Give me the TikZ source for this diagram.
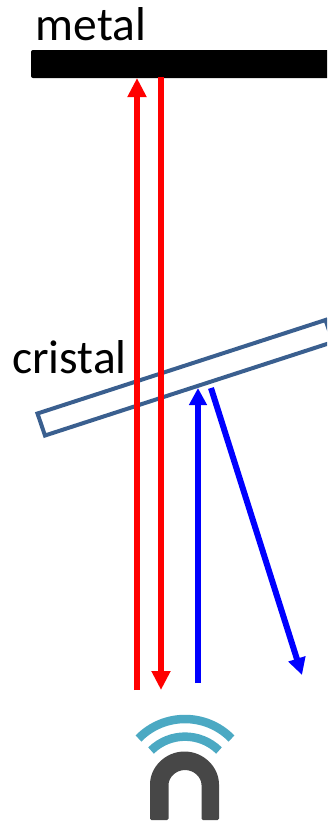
\documentclass[tikz,border=0pt]{standalone}
\usepackage{fontspec}
\setmainfont{Carlito}
\usetikzlibrary{arrows.meta}
\definecolor{crystalblue}{HTML}{3A5F8F}
\definecolor{wifiblue}{HTML}{4BA9C3}
\definecolor{darkgrey}{HTML}{474747}
\tikzset{
  px/.style={x=1pt,y=-1pt},
  redray/.style={draw=red,line width=6pt,-{Triangle[length=19pt,width=18pt]}},
  blueray/.style={draw=blue,line width=6pt,-{Triangle[length=17pt,width=17pt]}},
  label/.style={inner sep=0pt,font=\fontsize{47.5pt}{47.5pt}\selectfont,anchor=base west},
  wifi/.style={draw=wifiblue,line width=8.5pt},
}
\begin{document}
\begin{tikzpicture}[px]
\useasboundingbox (0,0) rectangle (327,822);
\clip (0,0) rectangle (327,822);
\node[label] (metal) at (35.5,40) {metal};
\node[label] (cristal) at (12,373) {cristal};
\fill[black,rounded corners=2pt] (31,50) rectangle (340,78);
\draw[crystalblue,line width=4pt,line join=miter] (37.5,413.5) -- (325.5,320) -- (333,342) -- (45,435.5) -- cycle;
\coordinate (u1) at (137,690); \coordinate (u2) at (137,78);
\coordinate (d1) at (161,77); \coordinate (d2) at (161,690);
\coordinate (b1) at (198,683); \coordinate (b2) at (198,388);
\coordinate (c1) at (211,388); \coordinate (c2) at (302,675);
\draw[redray] (u1) -- (u2);
\draw[redray] (d1) -- (d2);
\draw[blueray] (b1) -- (b2);
\draw[blueray] (c1) -- (c2);
\draw[wifi] (138.5,738.5) .. controls (164,712.5) and (206,712.5) .. (231.5,738.5);
\draw[wifi] (151,750.5) .. controls (170,732) and (200,732) .. (219,750.5);
\fill[darkgrey,rounded corners=1.5pt] (150,820) -- (150,786) arc[start angle=180,end angle=0,radius=34.5pt] -- (219,820) -- (201.5,820) -- (201.5,786.5) arc[start angle=0,end angle=180,radius=16.5pt] -- (168.5,820) -- cycle;
\end{tikzpicture}
\end{document}
